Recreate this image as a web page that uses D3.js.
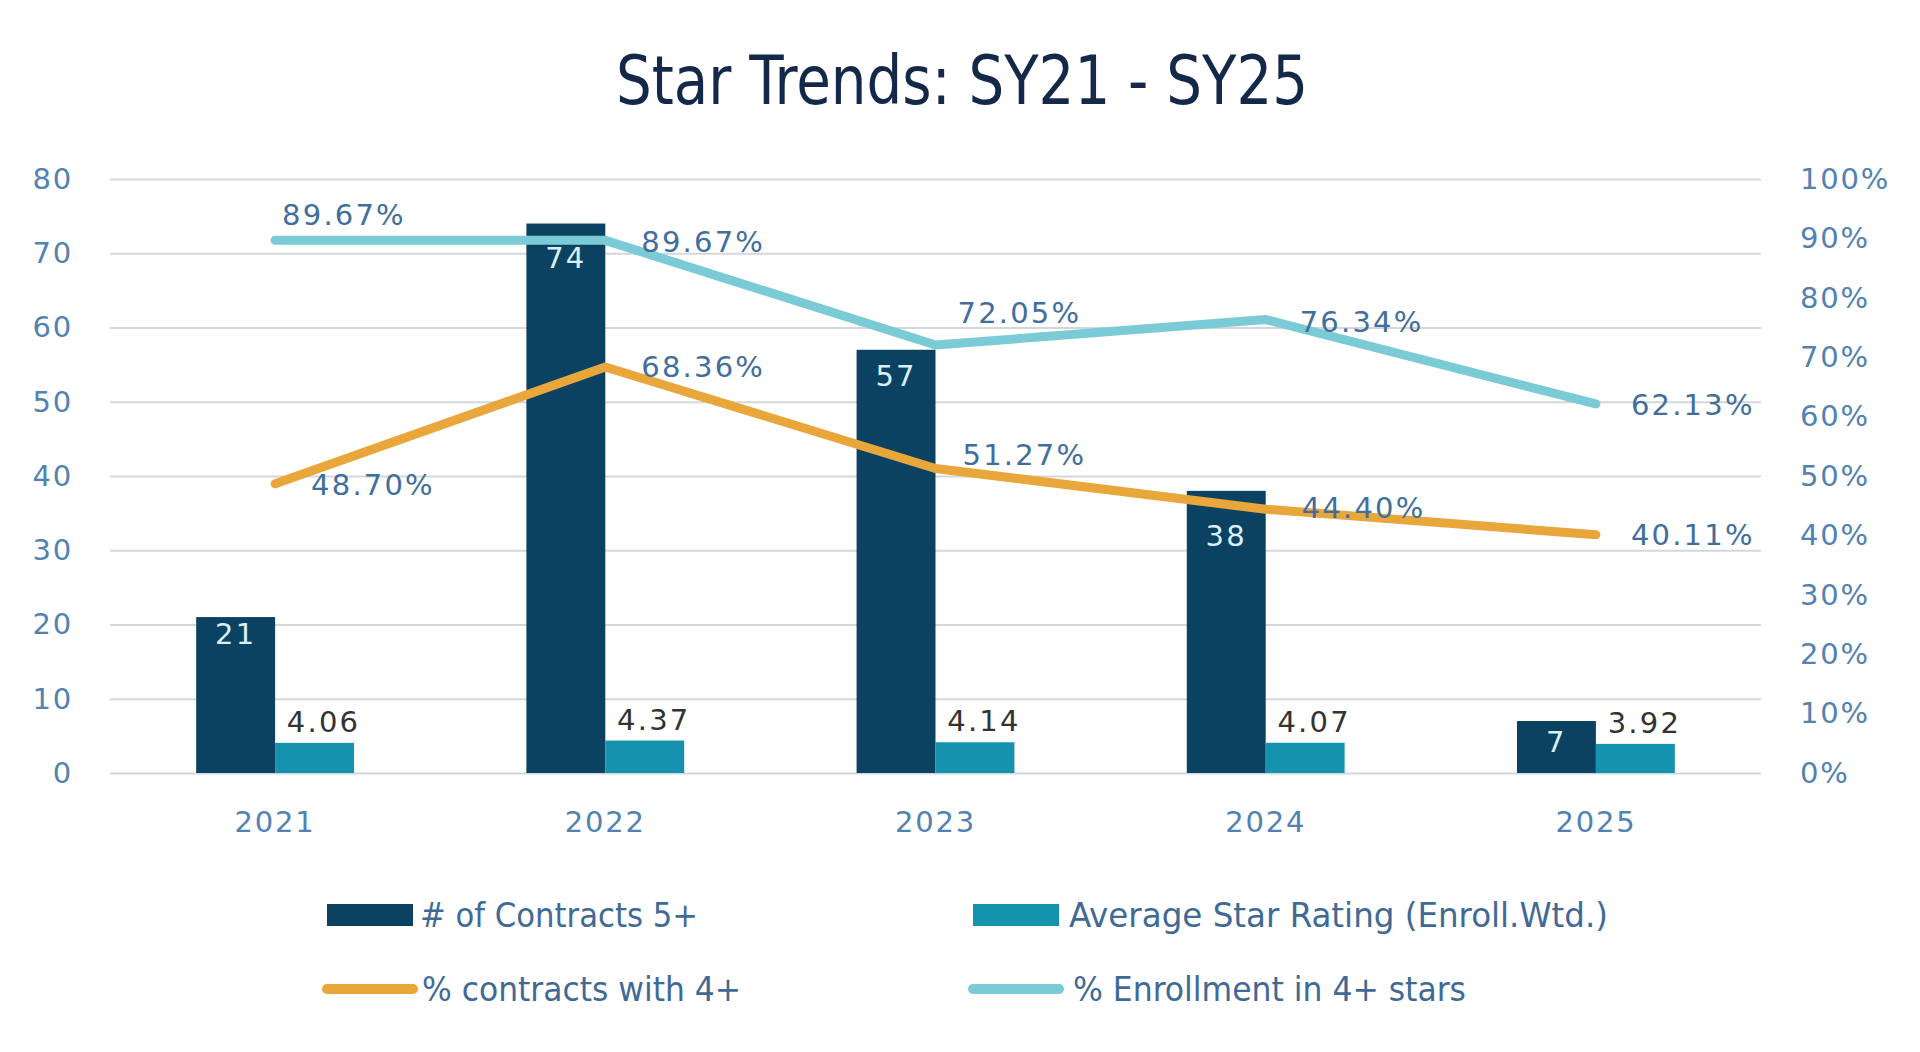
<!DOCTYPE html>
<html>
<head>
<meta charset="utf-8">
<script src="https://cdn.jsdelivr.net/npm/d3@7"></script>
<style>
  html, body { margin: 0; padding: 0; background: #ffffff; }
  svg { display: block; }
</style>
</head>
<body>
<svg id="chart" width="1920" height="1052"></svg>
<script>
// ---------------- DATA ----------------
const title = "Star Trends: SY21 - SY25";
const categories = ["2021", "2022", "2023", "2024", "2025"];
const contracts5 = [21, 74, 57, 38, 7];
const avgStarRating = [4.06, 4.37, 4.14, 4.07, 3.92];
const pctContracts4 = [0.4870, 0.6836, 0.5127, 0.4440, 0.4011];
const pctEnroll4 = [0.8967, 0.8967, 0.7205, 0.7634, 0.6213];
const leftTicks = [0, 10, 20, 30, 40, 50, 60, 70, 80];
const rightTicks = [0, 0.1, 0.2, 0.3, 0.4, 0.5, 0.6, 0.7, 0.8, 0.9, 1.0];
const seriesNames = [
  "# of Contracts 5+",
  "Average Star Rating (Enroll.Wtd.)",
  "% contracts with 4+",
  "% Enrollment in 4+ stars"
];

// ---------------- STYLE / LAYOUT ----------------
const W = 1920, H = 1052;
const plot = { left: 110, right: 1761, top: 179, bottom: 773 };
const colors = {
  dark: "#0c4261",
  light: "#1592ad",
  orange: "#e9a63b",
  cyan: "#7bcbd7",
  grid: "#d3d7dd",
  axisText: "#5282b2",
  lineLabel: "#416e9c",
  title: "#14294a",
  legendText: "#3f6a96",
  darkLabel: "#d9f0fb",
  lightLabel: "#333333"
};
const numFont = "'DejaVu Sans', Verdana, sans-serif";
const condFont = "'Liberation Sans Narrow', 'DejaVu Sans Condensed', 'Roboto', sans-serif";
// label placement tweaks (style, not data)
const darkLabelDy = [17, 34, 26, 45, 21];
const enrollLabelOff = [[7, -25], [36, 2], [22, -32], [34, 2], [35, 1]];
const contractLabelOff = [[36, 1], [36, 0], [27, -13], [36, -1], [35, 0]];

const svg = d3.select("#chart");
svg.append("rect").attr("width", W).attr("height", H).attr("fill", "#fff");

// ---------------- SCALES ----------------
const x = d3.scaleBand().domain(categories).range([plot.left, plot.right]).padding(0);
const bw = x.bandwidth();
const barW = bw * 0.239;
const yL = d3.scaleLinear().domain([0, 80]).range([plot.bottom, plot.top]);
const yR = d3.scaleLinear().domain([0, 1]).range([plot.bottom, plot.top]);
const cx = c => x(c) + bw / 2;

// ---------------- GRID ----------------
const grid = svg.append("g")
  .attr("transform", `translate(${plot.left},0)`)
  .call(d3.axisLeft(yL).tickValues(leftTicks).tickSize(-(plot.right - plot.left)).tickFormat(""));
grid.select(".domain").remove();
grid.selectAll("line").attr("stroke", colors.grid).attr("stroke-width", 2);

// ---------------- AXES ----------------
const axL = svg.append("g")
  .attr("transform", `translate(${plot.left},0)`)
  .call(d3.axisLeft(yL).tickValues(leftTicks).tickSize(0).tickPadding(37).tickFormat(d3.format("d")));
axL.select(".domain").remove();

const axR = svg.append("g")
  .attr("transform", `translate(${plot.right},0)`)
  .call(d3.axisRight(yR).tickValues(rightTicks).tickSize(0).tickPadding(39).tickFormat(d3.format(".0%")));
axR.select(".domain").remove();

const axB = svg.append("g")
  .attr("transform", `translate(0,${plot.bottom})`)
  .call(d3.axisBottom(x).tickSize(0).tickPadding(38));
axB.select(".domain").remove();

[axL, axR, axB].forEach(g => {
  g.selectAll("text")
    .attr("fill", colors.axisText)
    .style("font-family", numFont)
    .style("font-size", "29px")
    .style("letter-spacing", "1.8px");
});

// ---------------- BARS ----------------
const bars = svg.append("g");
bars.selectAll("rect.dark").data(categories).join("rect")
  .attr("class", "dark")
  .attr("x", c => cx(c) - barW)
  .attr("width", barW)
  .attr("y", (c, i) => yL(contracts5[i]))
  .attr("height", (c, i) => yL(0) - yL(contracts5[i]))
  .attr("fill", colors.dark);
bars.selectAll("rect.light").data(categories).join("rect")
  .attr("class", "light")
  .attr("x", c => cx(c))
  .attr("width", barW)
  .attr("y", (c, i) => yL(avgStarRating[i]))
  .attr("height", (c, i) => yL(0) - yL(avgStarRating[i]))
  .attr("fill", colors.light);

// ---------------- LINES ----------------
const lineGen = arr => d3.line()
  .x((d, i) => cx(categories[i]))
  .y(d => yR(d))(arr);

svg.append("path").attr("d", lineGen(pctContracts4))
  .attr("fill", "none").attr("stroke", colors.orange).attr("stroke-width", 9)
  .attr("stroke-linecap", "round").attr("stroke-linejoin", "round");
svg.append("path").attr("d", lineGen(pctEnroll4))
  .attr("fill", "none").attr("stroke", colors.cyan).attr("stroke-width", 9)
  .attr("stroke-linecap", "round").attr("stroke-linejoin", "round");

// ---------------- LABELS ----------------
const lbl = svg.append("g")
  .style("font-family", numFont)
  .style("font-size", "29px")
  .style("letter-spacing", "2.2px");

lbl.selectAll("text.dl").data(categories).join("text")
  .attr("class", "dl")
  .attr("x", c => cx(c) - barW / 2)
  .attr("y", (c, i) => yL(contracts5[i]) + darkLabelDy[i])
  .attr("text-anchor", "middle")
  .attr("dominant-baseline", "central")
  .attr("fill", colors.darkLabel)
  .text((c, i) => contracts5[i]);

lbl.selectAll("text.ll").data(categories).join("text")
  .attr("class", "ll")
  .attr("x", c => cx(c) + barW / 2 + 9)
  .attr("y", (c, i) => yL(avgStarRating[i]) - 21)
  .attr("text-anchor", "middle")
  .attr("dominant-baseline", "central")
  .attr("fill", colors.lightLabel)
  .text((c, i) => d3.format(".2f")(avgStarRating[i]));

const pct = d3.format(".2%");
lbl.selectAll("text.ce").data(categories).join("text")
  .attr("class", "ce")
  .attr("x", (c, i) => cx(c) + contractLabelOff[i][0])
  .attr("y", (c, i) => yR(pctContracts4[i]) + contractLabelOff[i][1])
  .attr("dominant-baseline", "central")
  .attr("fill", colors.lineLabel)
  .text((c, i) => pct(pctContracts4[i]));

lbl.selectAll("text.en").data(categories).join("text")
  .attr("class", "en")
  .attr("x", (c, i) => cx(c) + enrollLabelOff[i][0])
  .attr("y", (c, i) => yR(pctEnroll4[i]) + enrollLabelOff[i][1])
  .attr("dominant-baseline", "central")
  .attr("fill", colors.lineLabel)
  .text((c, i) => pct(pctEnroll4[i]));

// ---------------- TITLE ----------------
svg.append("text")
  .attr("x", 616).attr("y", 104)
  .attr("textLength", 692).attr("lengthAdjust", "spacingAndGlyphs")
  .attr("fill", colors.title)
  .style("font-family", condFont)
  .style("font-size", "68px")
  .text(title);

// ---------------- LEGEND ----------------
const legend = svg.append("g");
const legendItems = [
  { name: seriesNames[0], type: "rect", color: colors.dark, sx: 327, sw: 86, tx: 420, tl: 278, y: 915 },
  { name: seriesNames[1], type: "rect", color: colors.light, sx: 973, sw: 86, tx: 1069, tl: 539, y: 915 },
  { name: seriesNames[2], type: "line", color: colors.orange, sx: 327, sw: 86, tx: 422, tl: 319, y: 989 },
  { name: seriesNames[3], type: "line", color: colors.cyan, sx: 973, sw: 86, tx: 1073, tl: 393, y: 989 }
];
legendItems.forEach(it => {
  if (it.type === "rect") {
    legend.append("rect").attr("x", it.sx).attr("y", it.y - 11).attr("width", it.sw).attr("height", 22).attr("fill", it.color);
  } else {
    legend.append("line").attr("x1", it.sx).attr("x2", it.sx + it.sw).attr("y1", it.y).attr("y2", it.y)
      .attr("stroke", it.color).attr("stroke-width", 10).attr("stroke-linecap", "round");
  }
  legend.append("text")
    .attr("x", it.tx).attr("y", it.y)
    .attr("dominant-baseline", "central")
    .attr("textLength", it.tl).attr("lengthAdjust", "spacingAndGlyphs")
    .attr("fill", colors.legendText)
    .style("font-family", condFont)
    .style("font-size", "34px")
    .text(it.name);
});
</script>
</body>
</html>
